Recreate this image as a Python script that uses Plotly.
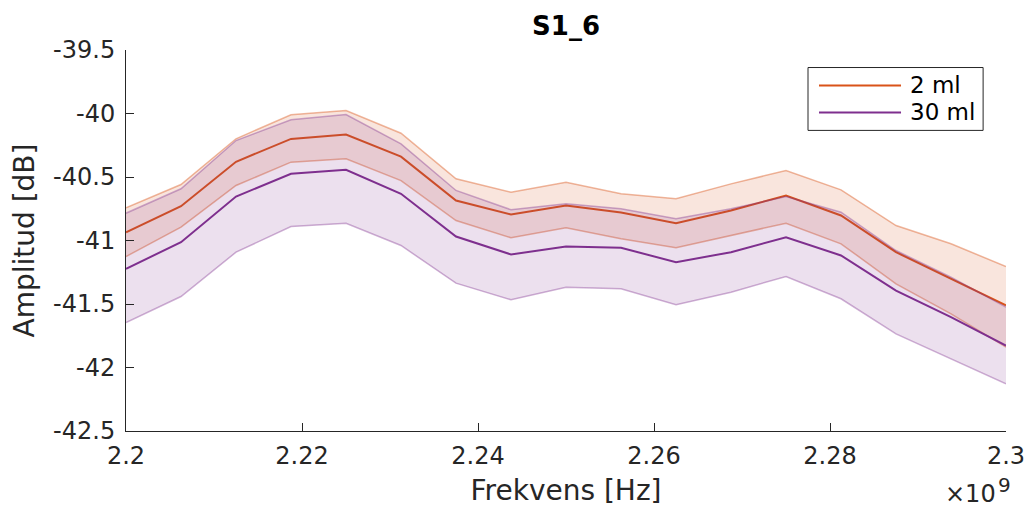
import plotly.graph_objects as go

# Frequency sweep points (Hz)
freq_hz = [2.2e9, 2.20625e9, 2.2125e9, 2.21875e9, 2.225e9, 2.23125e9, 2.2375e9,
           2.24375e9, 2.25e9, 2.25625e9, 2.2625e9, 2.26875e9, 2.275e9,
           2.28125e9, 2.2875e9, 2.29375e9, 2.3e9]

# 2 ml: mean amplitude and upper / lower band (dB)
mean_2ml = [-40.935, -40.73, -40.38, -40.20, -40.165, -40.34, -40.685, -40.795,
            -40.725, -40.78, -40.864, -40.764, -40.646, -40.803, -41.092,
            -41.30, -41.51]
upper_2ml = [-40.743, -40.559, -40.199, -40.01, -39.976, -40.155, -40.514,
             -40.62, -40.541, -40.632, -40.672, -40.554, -40.449, -40.601,
             -40.882, -41.026, -41.205]
lower_2ml = [-41.126, -40.895, -40.567, -40.383, -40.357, -40.528, -40.843,
             -40.979, -40.90, -40.987, -41.057, -40.961, -40.864, -41.026,
             -41.341, -41.577, -41.84]

# 30 ml: mean amplitude and upper / lower band (dB)
mean_30ml = [-41.223, -41.013, -40.654, -40.475, -40.443, -40.632, -40.969,
             -41.11, -41.047, -41.057, -41.171, -41.092, -40.974, -41.118,
             -41.394, -41.604, -41.827]
upper_30ml = [-40.785, -40.593, -40.213, -40.05, -40.008, -40.239, -40.606,
              -40.758, -40.711, -40.75, -40.829, -40.75, -40.654, -40.777,
              -41.079, -41.289, -41.525]
lower_30ml = [-41.646, -41.441, -41.092, -40.89, -40.864, -41.039, -41.336,
              -41.467, -41.368, -41.38, -41.506, -41.407, -41.283, -41.459,
              -41.735, -41.931, -42.128]

series_names = ["2 ml", "30 ml"]

# Axis ticks
x_tick_vals = [2.2e9, 2.22e9, 2.24e9, 2.26e9, 2.28e9, 2.3e9]
x_tick_text = ["2.2", "2.22", "2.24", "2.26", "2.28", "2.3"]
y_tick_vals = [-42.5, -42, -41.5, -41, -40.5, -40, -39.5]
y_tick_text = ["-42.5", "-42", "-41.5", "-41", "-40.5", "-40", "-39.5"]
x_exponent = "9"

FONT = "DejaVu Sans"
INK = "#262626"

styles = [
    dict(line="rgb(217,83,25)", edge="rgba(217,83,25,0.42)", fill="rgba(217,83,25,0.15)"),
    dict(line="rgb(126,47,142)", edge="rgba(126,47,142,0.38)", fill="rgba(126,47,142,0.15)"),
]

fig = go.Figure()

for name, mean, upper, lower, st in [
    (series_names[0], mean_2ml, upper_2ml, lower_2ml, styles[0]),
    (series_names[1], mean_30ml, upper_30ml, lower_30ml, styles[1]),
]:
    # shaded band: lower edge, then upper edge filled down to it
    fig.add_trace(go.Scatter(x=freq_hz, y=lower, mode="lines",
                             line=dict(color=st["edge"], width=1.5),
                             showlegend=False, hoverinfo="skip"))
    fig.add_trace(go.Scatter(x=freq_hz, y=upper, mode="lines",
                             line=dict(color=st["edge"], width=1.5),
                             fill="tonexty", fillcolor=st["fill"],
                             showlegend=False, hoverinfo="skip"))
    fig.add_trace(go.Scatter(x=freq_hz, y=mean, mode="lines", name=name,
                             line=dict(color=st["line"], width=2),
                             showlegend=False))

# Legend box drawn in plot-area paper coordinates
shapes = [dict(type="rect", xref="paper", yref="paper",
               x0=0.775, x1=0.974, y0=0.789, y1=0.954,
               line=dict(color=INK, width=1), fillcolor="white", layer="above")]
annotations = []
legend_rows = [0.907, 0.836]
for name, st, yy in zip(series_names, styles, legend_rows):
    shapes.append(dict(type="line", xref="paper", yref="paper",
                       x0=0.7875, x1=0.8807, y0=yy, y1=yy,
                       line=dict(color=st["line"], width=2), layer="above"))
    annotations.append(dict(xref="paper", yref="paper", x=0.8886, y=yy,
                            xanchor="left", yanchor="middle", showarrow=False,
                            text=name, font=dict(family=FONT, size=23, color="black")))

# Exponent marker for the frequency axis: "×10" with a raised exponent
annotations.append(dict(xref="paper", yref="paper", x=0.9898, y=-0.1247,
                        xanchor="right", yanchor="top", showarrow=False,
                        text="×10", borderpad=0,
                        font=dict(family=FONT, size=24, color=INK)))
annotations.append(dict(xref="paper", yref="paper", x=0.9898, y=-0.1063,
                        xanchor="left", yanchor="top", showarrow=False,
                        text=x_exponent, borderpad=0,
                        font=dict(family=FONT, size=20, color=INK)))

fig.update_layout(
    width=1029, height=507,
    margin=dict(l=126, r=23, t=50, b=76, pad=0),
    paper_bgcolor="white", plot_bgcolor="white",
    font=dict(family=FONT, color=INK),
    title=dict(text="<b>S1_6</b>", x=0.5501, xanchor="center",
               y=0.93, yanchor="bottom",
               font=dict(family=FONT, size=26, color="black")),
    shapes=shapes, annotations=annotations,
    showlegend=False,
)

fig.update_xaxes(range=[2.2e9, 2.3e9], tickvals=x_tick_vals, ticktext=x_tick_text,
                 ticks="inside", ticklen=8, tickcolor=INK, tickwidth=1,
                 showline=True, linecolor=INK, linewidth=1, mirror=False,
                 showgrid=False, zeroline=False, ticklabelstandoff=3,
                 tickfont=dict(family=FONT, size=24, color=INK),
                 title=dict(text="Frekvens [Hz]", standoff=14,
                            font=dict(family=FONT, size=28, color=INK)),
                 automargin=False)
fig.update_yaxes(range=[-42.5, -39.5], tickvals=y_tick_vals, ticktext=y_tick_text,
                 ticks="inside", ticklen=8, tickcolor=INK, tickwidth=1,
                 showline=True, linecolor=INK, linewidth=1, mirror=False,
                 showgrid=False, zeroline=False, ticklabelstandoff=5,
                 tickfont=dict(family=FONT, size=24, color=INK),
                 title=dict(text="Amplitud [dB]", standoff=10,
                            font=dict(family=FONT, size=28, color=INK)),
                 automargin=False)

fig.write_html("out.html")
